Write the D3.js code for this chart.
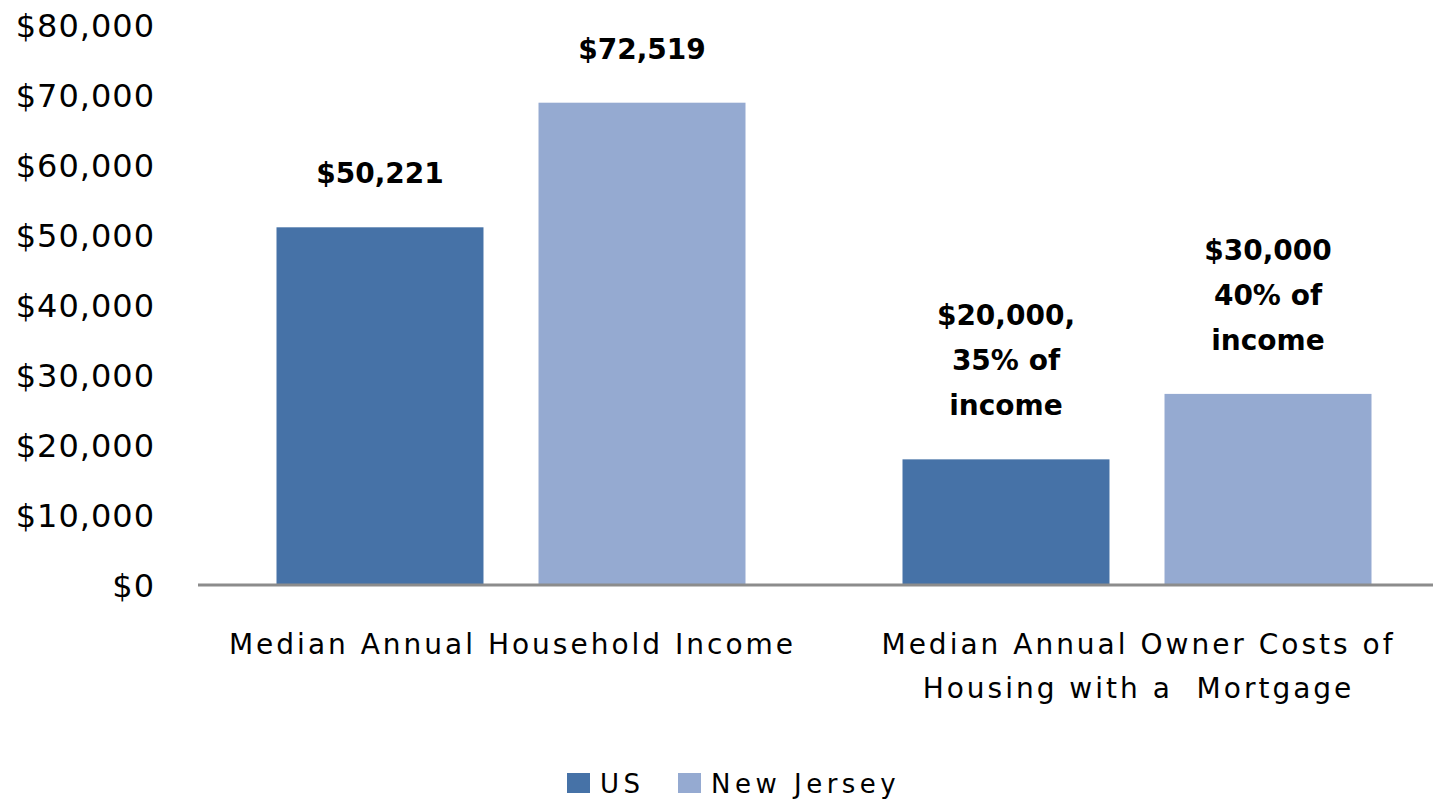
<!DOCTYPE html>
<html>
<head>
<meta charset="utf-8">
<script src="https://cdn.jsdelivr.net/npm/d3@7"></script>
<style>
  body { margin: 0; background: #fff; }
  text { font-family: "DejaVu Sans", sans-serif; fill: #000; }
</style>
</head>
<body>
<script>
"use strict"
/* dati */
const categorie = ["Median Annual Household Income", "Median Annual Owner Costs of|Housing with a  Mortgage"];
const serie = ["US", "New Jersey"];
const valoriUS = [51100, 17950];
const valoriNJ = [68900, 27300];
const etichetteUS = ["$50,221", "$20,000,|35% of|income"];
const etichetteNJ = ["$72,519", "$30,000|40% of|income"];
const tickValori = [0, 10000, 20000, 30000, 40000, 50000, 60000, 70000, 80000];
const colori = ["#4672A7", "#95AAD1"];

const grafico = { larghezza: 1433, altezza: 801 };
const margine = { sinistra: 198, destra: 1450, alto: 25, basso: 585 };

const svg = d3.select("body").append("svg")
    .attr("width", grafico.larghezza)
    .attr("height", grafico.altezza);

const scalaY = d3.scaleLinear().domain([0, 80000]).range([margine.basso, margine.alto]);
const scalaX = d3.scaleBand().domain(categorie).range([margine.sinistra, margine.destra]).padding(0);
const scalaSerie = d3.scaleBand().domain(serie).range([78.5, scalaX.bandwidth() - 78.5]).paddingInner(0.21);

/* asse verticale: solo etichette */
const asseY = d3.axisLeft(scalaY).tickValues(tickValori).tickSize(0).tickPadding(43)
    .tickFormat(d => "$" + d3.format(",")(d));
const gY = svg.append("g").attr("transform", `translate(${margine.sinistra},0)`).call(asseY);
gY.select(".domain").remove();
gY.selectAll("text").attr("font-size", "32px").attr("dy", "0.35em")
    .attr("letter-spacing", "1px")
    .style("font-family", "'DejaVu Sans', sans-serif").attr("fill", "#000");

/* barre */
const dati = [];
categorie.forEach((c, i) => {
    dati.push({ cat: c, serie: "US", valore: valoriUS[i], etichetta: etichetteUS[i] });
    dati.push({ cat: c, serie: "New Jersey", valore: valoriNJ[i], etichetta: etichetteNJ[i] });
});

svg.selectAll("rect.barra").data(dati).enter().append("rect")
    .attr("class", "barra")
    .attr("x", d => scalaX(d.cat) + scalaSerie(d.serie))
    .attr("y", d => scalaY(d.valore))
    .attr("width", scalaSerie.bandwidth())
    .attr("height", d => scalaY(0) - scalaY(d.valore))
    .attr("fill", d => colori[serie.indexOf(d.serie)]);

/* etichette sopra le barre */
const altezzaRiga = 45;
dati.forEach(d => {
    const righe = d.etichetta.split("|");
    const cx = scalaX(d.cat) + scalaSerie(d.serie) + scalaSerie.bandwidth() / 2;
    const base = scalaY(d.valore) - 44 - (righe.length - 1) * altezzaRiga;
    const t = svg.append("text")
        .attr("text-anchor", "middle")
        .attr("font-size", "28px")
        .attr("font-weight", "bold");
    righe.forEach((r, i) => {
        t.append("tspan").attr("x", cx).attr("y", base + i * altezzaRiga).text(r);
    });
});

/* asse orizzontale */
svg.append("line")
    .attr("x1", margine.sinistra).attr("x2", margine.destra)
    .attr("y1", scalaY(0)).attr("y2", scalaY(0))
    .attr("stroke", "#8C8C8C").attr("stroke-width", 3);

categorie.forEach(c => {
    const righe = c.split("|");
    const t = svg.append("text")
        .attr("text-anchor", "middle")
        .attr("font-size", "28px")
        .attr("letter-spacing", "3px");
    righe.forEach((r, i) => {
        t.append("tspan").attr("x", scalaX(c) + scalaX.bandwidth() / 2 + 1.5)
            .attr("y", 654 + i * 44).attr("xml:space", "preserve").text(r);
    });
});

/* legenda */
const legenda = svg.append("g").attr("transform", "translate(567,773)");
const posizioniLegenda = [0, 111];
serie.forEach((s, i) => {
    const g = legenda.append("g").attr("transform", `translate(${posizioniLegenda[i]},0)`);
    g.append("rect").attr("width", 23).attr("height", 20).attr("fill", colori[i]);
    g.append("text").attr("x", 33).attr("y", 20).attr("font-size", "26px")
        .attr("letter-spacing", "4.5px").text(s);
});
</script>
</body>
</html>
